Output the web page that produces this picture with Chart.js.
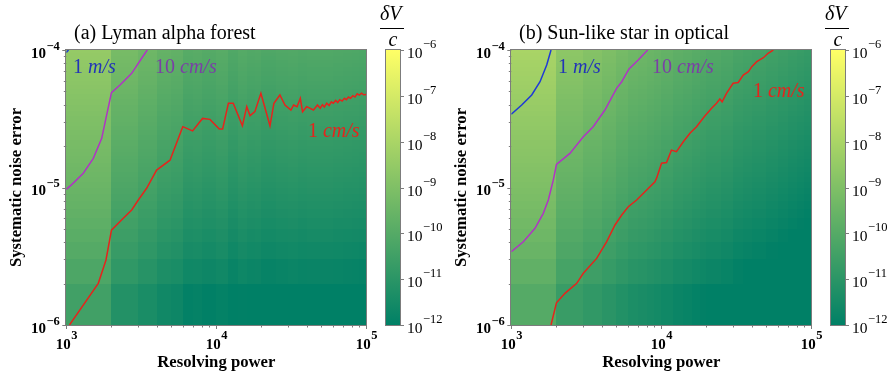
<!DOCTYPE html>
<html>
<head>
<meta charset="utf-8">
<script src="https://cdn.jsdelivr.net/npm/chart.js@4.4.0/dist/chart.umd.min.js"></script>
<style>
  body { margin: 0; background: #fff; width: 893px; height: 382px; position: relative; overflow: hidden; }
  canvas { position: absolute; top: 0; }
</style>
</head>
<body>
<canvas id="panelA" width="380" height="382" style="left:0"></canvas>
<canvas id="barA" width="70" height="382" style="left:376px"></canvas>
<canvas id="panelB" width="380" height="382" style="left:445px"></canvas>
<canvas id="barB" width="72" height="382" style="left:821px"></canvas>
<script>
// heatmap cell edges
const rEdges = [1000, 2000, 3000, 4000, 5000, 6000, 7000, 8000, 9000, 10000,
  12000, 14000, 16000, 18000, 20000, 25000, 30000, 35000, 40000, 50000,
  60000, 70000, 80000, 90000, 100000];
const noiseEdges = [1e-6, 2e-6, 3e-6, 4e-6, 5e-6, 6e-6, 7e-6, 8e-6, 9e-6,
  1.0e-5, 1.1e-5, 1.2e-5, 1.3e-5, 1.4e-5, 1.5e-5, 1.6e-5, 1.7e-5, 1.8e-5, 1.9e-5,
  2.0e-5, 2.2e-5, 2.4e-5, 2.6e-5, 2.8e-5, 3.0e-5, 3.3e-5, 3.6e-5, 4.0e-5, 4.4e-5,
  4.8e-5, 5.2e-5, 5.6e-5, 6.0e-5, 6.5e-5, 7.0e-5, 7.5e-5, 8.0e-5, 8.5e-5, 9.0e-5,
  9.5e-5, 1e-4];
// decades of dV/c added to each noise row (relative to the bottom row)
const rowShift = [0, 0.301, 0.477, 0.602, 0.699, 0.778, 0.845, 0.903, 0.954,
  1.000, 1.041, 1.079, 1.114, 1.146, 1.176, 1.204, 1.230, 1.255, 1.279,
  1.301, 1.342, 1.380, 1.415, 1.447, 1.477, 1.519, 1.556, 1.602, 1.643,
  1.681, 1.716, 1.748, 1.778, 1.813, 1.845, 1.875, 1.903, 1.929, 1.954,
  1.978];
// log10(dV/c) of the bottom row, one per resolving power column
const lymanLevel = [-10.48, -11.17, -11.38, -11.61, -11.68, -11.92, -11.89, -11.98, -11.98, -11.90,
  -12.09, -11.97, -12.05, -12.03, -12.13, -12.08, -12.05, -12.10, -12.07, -12.07,
  -12.10, -12.12, -12.14, -12.16];
const sunLevel = [-10.01, -10.65, -10.85, -11.02, -11.20, -11.34, -11.39, -11.46, -11.52, -11.62,
  -11.75, -11.81, -11.90, -11.96, -12.03, -12.11, -12.24, -12.30, -12.36, -12.44,
  -12.52, -12.60, -12.66, -12.72];

// contour lines (resolving power, noise)
const lymanRedR = [1050, 1634, 1839, 2000, 2398, 2729, 3020, 3431, 4001, 4913,
  5975, 6950, 8100, 9070, 10470, 11020, 12040, 12970, 14920, 15960,
  16790, 18080, 19830, 22800, 24220, 26550, 28690, 31430, 32770, 34550,
  36310, 37580, 40030, 44430, 47260, 49260, 51000, 52500, 54500, 56500,
  58500, 60200, 62500, 64500, 66500, 69000, 71500, 73600, 76000, 78500,
  81300, 84000, 87000, 89900, 93000, 96000, 100000];
const lymanRedN = [1e-6, 2.01e-6, 2.97e-6, 4.9e-6, 5.97e-6, 6.86e-6, 8.11e-6, 9.87e-6, 1.34e-5, 1.58e-5,
  2.77e-5, 2.58e-5, 3.18e-5, 3.13e-5, 2.66e-5, 2.66e-5, 4.1e-5, 4.1e-5, 2.81e-5, 3.87e-5,
  3.33e-5, 3.56e-5, 4.84e-5, 2.81e-5, 4.1e-5, 4.71e-5, 3.98e-5, 3.66e-5, 3.98e-5, 3.87e-5,
  4.45e-5, 3.56e-5, 3.87e-5, 3.66e-5, 3.98e-5, 3.77e-5, 4.0e-5, 3.85e-5, 4.1e-5, 3.95e-5,
  4.2e-5, 4.1e-5, 4.3e-5, 4.15e-5, 4.35e-5, 4.25e-5, 4.45e-5, 4.35e-5, 4.55e-5, 4.45e-5,
  4.65e-5, 4.55e-5, 4.8e-5, 4.7e-5, 4.85e-5, 4.72e-5, 4.75e-5];
const lymanPurpleR = [1000, 1086, 1298, 1514, 1722, 1859, 2000, 2280, 2729, 3181, 3465];
const lymanPurpleN = [9.7e-6, 1.05e-5, 1.27e-5, 1.63e-5, 2.28e-5, 3.37e-5, 4.9e-5, 5.56e-5, 6.77e-5, 8.71e-5, 1e-4];
const lymanBlueR = [1000, 1035];
const lymanBlueN = [9.6e-5, 1e-4];

const sunRedR = [1840, 2000, 2279, 2730, 3020, 3707, 4325, 4913, 5447, 6025,
  6850, 7990, 9070, 9300, 10040, 10840, 11680, 12620, 14020, 15520,
  17170, 19330, 21640, 23350, 24570, 25440, 27200, 30120, 32550, 35190,
  38100, 40100, 43300, 47930, 51500, 55800];
const sunRedN = [1e-6, 1.45e-6, 1.7e-6, 2.01e-6, 2.38e-6, 3.05e-6, 4.04e-6, 5.34e-6, 6.31e-6, 7.25e-6,
  8.11e-6, 9.59e-6, 1.10e-5, 1.17e-5, 1.5e-5, 1.52e-5, 1.87e-5, 1.82e-5, 2.15e-5, 2.48e-5,
  2.77e-5, 3.27e-5, 3.77e-5, 4.1e-5, 4.4e-5, 4.2e-5, 4.84e-5, 5.73e-5, 5.8e-5, 6.58e-5,
  6.95e-5, 7.56e-5, 8.22e-5, 8.79e-5, 9.46e-5, 1e-4];
const sunPurpleR = [1000, 1203, 1439, 1634, 1765, 1905, 2000, 2459, 3020, 3516, 4208, 5036, 5447, 6093, 7015, 8118];
const sunPurpleN = [3.41e-6, 4.03e-6, 5.05e-6, 6.49e-6, 8.11e-6, 1.13e-5, 1.47e-5, 1.77e-5, 2.34e-5, 2.77e-5,
  3.66e-5, 5.26e-5, 5.88e-5, 7.28e-5, 8.45e-5, 1e-4];
const sunBlueR = [1000, 1173, 1368, 1554, 1722, 1840];
const sunBlueN = [3.41e-5, 3.98e-5, 4.71e-5, 5.88e-5, 7.78e-5, 1e-4];

// ticks
const xTicks = [1e3, 1e4, 1e5];
const xTickExp = ['3', '4', '5'];
const xMinor = [2000, 3000, 4000, 5000, 6000, 7000, 8000, 9000, 20000, 30000, 40000, 50000, 60000, 70000, 80000, 90000];
const yTicks = [1e-6, 1e-5, 1e-4];
const yTickExp = ['\u22126', '\u22125', '\u22124'];
const yMinor = [2e-6, 3e-6, 4e-6, 5e-6, 6e-6, 7e-6, 8e-6, 9e-6, 2e-5, 3e-5, 4e-5, 5e-5, 6e-5, 7e-5, 8e-5, 9e-5];
const cbTicks = [1e-12, 1e-11, 1e-10, 1e-9, 1e-8, 1e-7, 1e-6];
const cbTickExp = ['\u221212', '\u221211', '\u221210', '\u22129', '\u22128', '\u22127', '\u22126'];

const RED = '#e5241c', PURPLE = '#b034c4', BLUE = '#1f3ad6';
const SERIF = '"Liberation Serif", "DejaVu Serif", serif';

// matplotlib "summer" colormap on a log scale 1e-12 .. 1e-6
function summer(logv) {
    let t = (logv + 12) / 6;
    t = Math.max(0, Math.min(1, t));
    return `rgb(${Math.round(255 * t)},${Math.round(127.5 + 127.5 * t)},102)`;
}

// "10" with a raised exponent
function drawPower(ctx, x, y, exp, baseFont, expFont, align, raise) {
    ctx.font = baseFont;
    const wb = ctx.measureText('10').width;
    ctx.font = expFont;
    const we = ctx.measureText(exp).width;
    let left = x;
    if (align === 'center') left = x - (wb + we) / 2;
    if (align === 'right') left = x - wb - we;
    ctx.textAlign = 'left';
    ctx.textBaseline = 'alphabetic';
    ctx.font = baseFont;
    ctx.fillText('10', left, y);
    ctx.font = expFont;
    ctx.fillText(exp, left + wb + 0.5, y - raise);
}

function makePanel(id, p) {
    const lines = [
        { r: p.redR, n: p.redN, color: RED },
        { r: p.purpleR, n: p.purpleN, color: PURPLE },
        { r: p.blueR, n: p.blueN, color: BLUE }
    ];

    const heatmap = {
        id: 'heatmap',
        beforeDatasetsDraw(chart) {
            const { ctx, scales: { x, y } } = chart;
            ctx.save();
            for (let i = 0; i < p.level.length; i++) {
                const x0 = Math.round(x.getPixelForValue(rEdges[i]));
                const x1 = Math.round(x.getPixelForValue(rEdges[i + 1]));
                for (let j = 0; j < rowShift.length; j++) {
                    const y0 = Math.round(y.getPixelForValue(noiseEdges[j]));
                    const y1 = Math.round(y.getPixelForValue(noiseEdges[j + 1]));
                    ctx.fillStyle = summer(p.level[i] + rowShift[j]);
                    ctx.fillRect(x0, y1, x1 - x0, y0 - y1);
                }
            }
            ctx.restore();
        }
    };

    const decor = {
        id: 'decor',
        afterDraw(chart) {
            const { ctx, chartArea: a, scales: { x, y } } = chart;
            ctx.save();
            // frame
            ctx.strokeStyle = '#7c7c7c';
            ctx.lineWidth = 1;
            ctx.strokeRect(Math.round(a.left) - 0.5, Math.round(a.top) - 0.5,
                Math.round(a.right - a.left) + 1, Math.round(a.bottom - a.top) + 1);

            // tick marks
            ctx.beginPath();
            xTicks.forEach(v => { const px = Math.round(x.getPixelForValue(v)) + 0.5; ctx.moveTo(px, a.bottom); ctx.lineTo(px, a.bottom + 4); });
            xMinor.forEach(v => { const px = Math.round(x.getPixelForValue(v)) + 0.5; ctx.moveTo(px, a.bottom); ctx.lineTo(px, a.bottom + 2.5); });
            yTicks.forEach(v => { const py = Math.round(y.getPixelForValue(v)) + 0.5; ctx.moveTo(a.left, py); ctx.lineTo(a.left - 4, py); });
            yMinor.forEach(v => { const py = Math.round(y.getPixelForValue(v)) + 0.5; ctx.moveTo(a.left, py); ctx.lineTo(a.left - 2.5, py); });
            ctx.stroke();

            // tick labels
            ctx.fillStyle = '#000';
            xTicks.forEach((v, i) => drawPower(ctx, x.getPixelForValue(v), a.bottom + 24, xTickExp[i],
                'bold 15px ' + SERIF, 'bold 12.5px ' + SERIF, 'center', 10));
            yTicks.forEach((v, i) => drawPower(ctx, a.left - 7, y.getPixelForValue(v) + 7.5, yTickExp[i],
                'bold 15px ' + SERIF, 'bold 12.5px ' + SERIF, 'right', 8));

            // axis titles
            ctx.font = 'bold 16.7px ' + SERIF;
            ctx.textAlign = 'center';
            ctx.textBaseline = 'middle';
            ctx.fillText('Resolving power', (a.left + a.right) / 2, a.bottom + 38);
            ctx.save();
            ctx.translate(17, (a.top + a.bottom) / 2);
            ctx.rotate(-Math.PI / 2);
            ctx.fillText('Systematic noise error', 0, 0);
            ctx.restore();

            // panel title
            ctx.font = '20px ' + SERIF;
            ctx.textAlign = 'left';
            ctx.textBaseline = 'alphabetic';
            ctx.fillText(p.title, 74, 39);

            // contour labels
            p.labels.forEach(l => {
                const lx = x.getPixelForValue(l.r);
                const ly = y.getPixelForValue(l.n);
                ctx.fillStyle = l.color;
                ctx.font = '20px ' + SERIF;
                ctx.fillText(l.num + ' ', lx, ly);
                const w = ctx.measureText(l.num + ' ').width;
                ctx.font = 'italic 20px ' + SERIF;
                ctx.fillText(l.unit, lx + w, ly);
            });
            ctx.restore();
        }
    };

    return new Chart(document.getElementById(id), {
        type: 'line',
        data: {
            datasets: lines.map(l => ({
                data: l.r.map((r, i) => ({ x: r, y: l.n[i] })),
                borderColor: l.color,
                borderWidth: 1.5,
                pointRadius: 0,
                tension: 0,
                fill: false
            }))
        },
        options: {
            responsive: false,
            animation: false,
            devicePixelRatio: 1,
            layout: { padding: { left: 66.3, right: 13.7, top: 50, bottom: 57 } },
            scales: {
                x: { type: 'logarithmic', min: 1000, max: 100000, display: false },
                y: { type: 'logarithmic', min: 1e-6, max: 1e-4, display: false }
            },
            plugins: { legend: { display: false }, tooltip: { enabled: false } }
        },
        plugins: [heatmap, decor]
    });
}

function makeColorbar(id, rightPad) {
    const bar = {
        id: 'bar',
        afterDraw(chart) {
            const { ctx, chartArea: a, scales: { y } } = chart;
            ctx.save();
            const g = ctx.createLinearGradient(0, a.bottom, 0, a.top);
            g.addColorStop(0, summer(-12));
            g.addColorStop(1, summer(-6));
            ctx.fillStyle = g;
            ctx.fillRect(a.left, a.top, a.right - a.left, a.bottom - a.top);
            ctx.strokeStyle = '#7c7c7c';
            ctx.lineWidth = 1;
            ctx.strokeRect(Math.round(a.left) - 0.5, Math.round(a.top) - 0.5,
                Math.round(a.right - a.left) + 1, Math.round(a.bottom - a.top) + 1);
            ctx.beginPath();
            cbTicks.forEach(v => { const py = Math.round(y.getPixelForValue(v)) + 0.5; ctx.moveTo(a.right, py); ctx.lineTo(a.right + 4, py); });
            ctx.stroke();
            ctx.fillStyle = '#000';
            cbTicks.forEach((v, i) => drawPower(ctx, a.right + 7, y.getPixelForValue(v) + 8, cbTickExp[i],
                '15.5px ' + SERIF, '12.5px ' + SERIF, 'left', 10));
            // dV / c over the bar
            ctx.font = 'italic 20px ' + SERIF;
            ctx.textAlign = 'left';
            ctx.fillText('\u03b4V', a.left - 6, 20);
            ctx.fillRect(a.left - 6, 28, 24, 1);
            ctx.textAlign = 'center';
            ctx.fillText('c', a.left + 7, 46);
            ctx.restore();
        }
    };
    return new Chart(document.getElementById(id), {
        type: 'line',
        data: { datasets: [] },
        options: {
            responsive: false,
            animation: false,
            devicePixelRatio: 1,
            layout: { padding: { left: 10, right: rightPad, top: 50, bottom: 57 } },
            scales: {
                x: { type: 'linear', min: 0, max: 1, display: false },
                y: { type: 'logarithmic', min: 1e-12, max: 1e-6, display: false }
            },
            plugins: { legend: { display: false }, tooltip: { enabled: false } }
        },
        plugins: [bar]
    });
}

makePanel('panelA', {
    title: '(a) Lyman alpha forest',
    level: lymanLevel,
    redR: lymanRedR, redN: lymanRedN,
    purpleR: lymanPurpleR, purpleN: lymanPurpleN,
    blueR: lymanBlueR, blueN: lymanBlueN,
    labels: [
        { num: '1', unit: 'm/s', r: 1108, n: 6.8e-5, color: '#2234b8' },
        { num: '10', unit: 'cm/s', r: 3903, n: 6.8e-5, color: '#7b3fa6' },
        { num: '1', unit: 'cm/s', r: 40860, n: 2.33e-5, color: '#e5241c' }
    ]
});
makeColorbar('barA', 46);

makePanel('panelB', {
    title: '(b) Sun-like star in optical',
    level: sunLevel,
    redR: sunRedR, redN: sunRedN,
    purpleR: sunPurpleR, purpleN: sunPurpleN,
    blueR: sunBlueR, blueN: sunBlueN,
    labels: [
        { num: '1', unit: 'm/s', r: 2047, n: 6.8e-5, color: '#2234b8' },
        { num: '10', unit: 'cm/s', r: 8670, n: 6.8e-5, color: '#7b3fa6' },
        { num: '1', unit: 'cm/s', r: 40860, n: 4.55e-5, color: '#e5241c' }
    ]
});
makeColorbar('barB', 48);
</script>
</body>
</html>
